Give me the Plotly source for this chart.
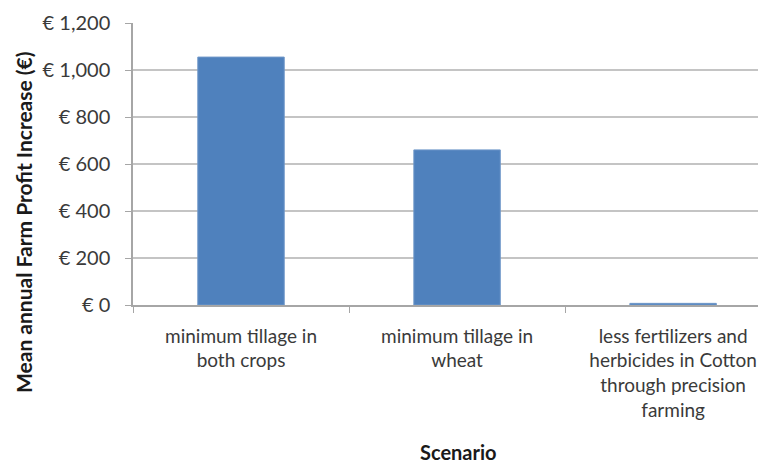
import plotly.graph_objects as go

# scenarios and mean annual farm profit increase (EUR)
scenarios = ["minimum tillage in<br>both crops",
             "minimum tillage in<br>wheat",
             "less fertilizers and<br>herbicides in Cotton<br>through precision<br>farming"]
profit = [1055, 660, 7]

ytick_vals = [0, 200, 400, 600, 800, 1000, 1200]
ytick_text = ["€ 0", "€ 200", "€ 400", "€ 600", "€ 800", "€ 1,000", "€ 1,200"]

txt = "#3a3a3a"
fnt = "Lato, Carlito, 'Open Sans', sans-serif"

fig = go.Figure()
fig.add_trace(go.Bar(x=scenarios, y=profit, width=0.4,
                     marker=dict(color="#4f81bd", line=dict(color="#6f97c9", width=1))))

# page body has an 8px margin, so the figure is drawn 8px smaller
fig.update_layout(
    width=758, height=458,
    margin=dict(l=125, r=0, t=15, b=161),
    plot_bgcolor="white", paper_bgcolor="white",
    font=dict(family=fnt, size=19, color=txt),
    showlegend=False,
    xaxis=dict(range=[-0.5, 2.43], tickson="boundaries", ticks="outside", ticklen=6,
               tickcolor="#a6a6a6", showline=True, linecolor="#a6a6a6", linewidth=1.5,
               tickfont=dict(size=19, color=txt), ticklabelstandoff=13,
               showgrid=False, automargin=False),
    yaxis=dict(range=[0, 1200], tickvals=ytick_vals, ticktext=ytick_text,
               ticks="outside", ticklen=6, tickcolor="#a6a6a6",
               showline=True, linecolor="#a6a6a6", linewidth=1.5,
               gridcolor="#c4c4c4", gridwidth=1.5, zeroline=False,
               tickfont=dict(size=20, color=txt), ticklabelstandoff=11,
               automargin=False),
    annotations=[
        dict(text="<b>Mean annual Farm Profit Increase (€)</b>", textangle=-90,
             xref="paper", yref="paper", x=(23 - 133) / 633, y=(305 - 222) / 282,
             xanchor="center", yanchor="middle",
             showarrow=False, font=dict(size=21, color="#1a1a1a")),
        dict(text="<b>Scenario</b>", xref="paper", yref="paper",
             x=(458 - 133) / 633, y=(305 - 452) / 282,
             xanchor="center", yanchor="middle",
             showarrow=False, font=dict(size=20, color="#1a1a1a")),
    ],
)

fig.write_html("out.html")
